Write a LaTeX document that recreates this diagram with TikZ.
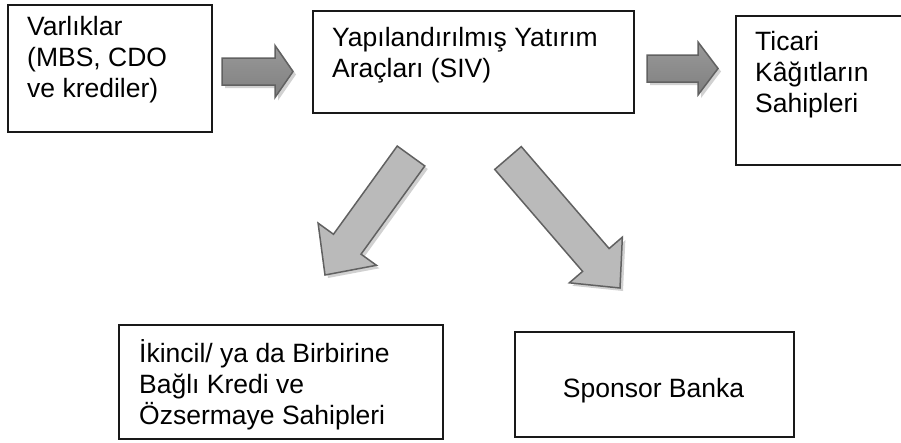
\documentclass[tikz,border=0pt]{standalone}
\usepackage{fontspec}
\setmainfont{Liberation Sans}
\usetikzlibrary{calc}

% strut that fixes the first baseline 24pt below the top of a text block
\newcommand\firstline{\rule{0pt}{24pt}}

% fat block arrow from a tail coordinate to a tip coordinate:
% #1 tail, #2 tip, #3 half shaft width, #4 half head width, #5 head length, #6 fill style
\newcommand\blockarrow[6]{%
  \coordinate (#1-neck) at ($(#2)!#5!(#1)$);
  \fill[arrowshadow]
    ($(#1)!#3!90:(#2)$) -- ($(#1-neck)!#3!90:(#2)$) -- ($(#1-neck)!#4!90:(#2)$) -- (#2)
    -- ($(#1-neck)!#4!-90:(#2)$) -- ($(#1-neck)!#3!-90:(#2)$) -- ($(#1)!#3!-90:(#2)$) -- cycle;
  \draw[#6]
    ($(#1)!#3!90:(#2)$) -- ($(#1-neck)!#3!90:(#2)$) -- ($(#1-neck)!#4!90:(#2)$) -- (#2)
    -- ($(#1-neck)!#4!-90:(#2)$) -- ($(#1-neck)!#3!-90:(#2)$) -- ($(#1)!#3!-90:(#2)$) -- cycle;
}

\tikzset{
  box/.style={draw=black!90, line width=1.8pt, inner sep=0pt, anchor=north west},
  txt/.style={anchor=north west, inner sep=0pt, align=left, font=\fontsize{26.5}{31}\selectfont},
  arrowshadow/.style={fill=black!18, transform canvas={shift={(3pt,-3pt)}}},
  harrow/.style={draw=black!62, line width=1.5pt, top color=black!40, middle color=black!10, bottom color=black!50},
  darrow/.style={draw=black!62, line width=1.5pt, top color=black!27, middle color=black!19, bottom color=black!27, shading angle=#1},
}

\begin{document}
\begin{tikzpicture}[x=1pt, y=-1pt]
  \useasboundingbox (0,0) rectangle (901,442);
  \clip (0,0) rectangle (901,442);

  % boxes
  \node[box, minimum width=204pt, minimum height=127pt] (assets) at (7,4) {};
  \node[box, minimum width=321pt, minimum height=102pt] (siv) at (312,10) {};
  \node[box, minimum width=180pt, minimum height=149pt] (cpholders) at (735,15) {};
  \node[box, minimum width=324pt, minimum height=114pt] (equity) at (118,324) {};
  \node[box, minimum width=279pt, minimum height=105pt] (sponsor) at (514,331) {};

  % box texts
  \node[txt] (assets-text) at (27,11) {\firstline Varlıklar\\(MBS, CDO\\ve krediler)};
  \node[txt] (siv-text) at (332,22) {\firstline Yapılandırılmış Yatırım\\Araçları (SIV)};
  \node[txt] (cpholders-text) at (755,26) {\firstline Ticari\\Kâğıtların\\Sahipleri};
  \node[txt] (equity-text) at (139,338) {\firstline İkincil/ ya da Birbirine\\Bağlı Kredi ve\\Özsermaye Sahipleri};
  \node[anchor=base, inner sep=0pt, font=\fontsize{26.5}{31}\selectfont] (sponsor-text) at (653.5,397) {Sponsor Banka};

  % arrow end points
  \coordinate (a1-tail) at (222,71.5);
  \coordinate (a1-tip)  at (293,71.5);
  \coordinate (a2-tail) at (647,68.5);
  \coordinate (a2-tip)  at (718,68.5);
  \coordinate (a3-tail) at (411,156);
  \coordinate (a3-tip)  at (325,275);
  \coordinate (a4-tail) at (508,158);
  \coordinate (a4-tip)  at (620,288);

  % arrows
  \blockarrow{a1-tail}{a1-tip}{13.5pt}{26pt}{18pt}{harrow}
  \blockarrow{a2-tail}{a2-tip}{13.5pt}{26.5pt}{20pt}{harrow}
  \blockarrow{a3-tail}{a3-tip}{17pt}{36pt}{38pt}{darrow=54}
  \blockarrow{a4-tail}{a4-tip}{17.5pt}{35pt}{37pt}{darrow=131}
\end{tikzpicture}
\end{document}
